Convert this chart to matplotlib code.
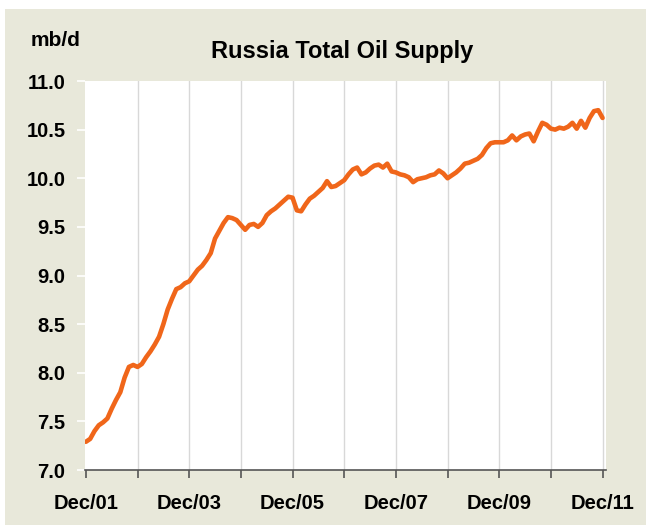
import numpy as np
import matplotlib
matplotlib.use("Agg")
import matplotlib.pyplot as plt
from matplotlib.patches import Rectangle

# monthly supply, Dec 2001 .. Dec 2011 (mb/d)
supply = [
    7.29, 7.32, 7.40, 7.46, 7.49, 7.53, 7.63, 7.72, 7.80, 7.95, 8.06, 8.08,
    8.06, 8.09, 8.16, 8.22, 8.29, 8.37, 8.50, 8.65, 8.76, 8.86, 8.88, 8.92,
    8.94, 9.00, 9.06, 9.10, 9.16, 9.23, 9.38, 9.46, 9.54, 9.60, 9.59, 9.57,
    9.52, 9.47, 9.52, 9.53, 9.50, 9.54, 9.62, 9.66, 9.69, 9.73, 9.77, 9.81,
    9.80, 9.67, 9.66, 9.73, 9.79, 9.82, 9.86, 9.90, 9.97, 9.91, 9.92, 9.95,
    9.98, 10.04, 10.09, 10.11, 10.04, 10.06, 10.10, 10.13, 10.14, 10.11, 10.15, 10.07,
    10.06, 10.04, 10.03, 10.01, 9.96, 9.99, 10.00, 10.01, 10.03, 10.04, 10.08, 10.05,
    10.00, 10.03, 10.06, 10.10, 10.15, 10.16, 10.18, 10.20, 10.24, 10.31, 10.36, 10.37,
    10.37, 10.37, 10.39, 10.44, 10.39, 10.43, 10.45, 10.46, 10.38, 10.48, 10.57, 10.55,
    10.51, 10.50, 10.52, 10.51, 10.53, 10.57, 10.51, 10.59, 10.52, 10.62, 10.69, 10.70,
    10.62,
]
tick_labels = ["Dec/01", "Dec/03", "Dec/05", "Dec/07", "Dec/09", "Dec/11"]
y_ticks = [7.0, 7.5, 8.0, 8.5, 9.0, 9.5, 10.0, 10.5, 11.0]

beige = "#e8e8da"
font = ["Liberation Sans", "DejaVu Sans"]
plt.rcParams["font.family"] = font

fig = plt.figure(figsize=(6.46, 5.25), dpi=100, facecolor="white")
fig.patches.append(Rectangle((5 / 646, 0), 1, 1 - 9 / 525, transform=fig.transFigure,
                             facecolor=beige, edgecolor="none", zorder=-10))

ax = fig.add_axes([85 / 646, 1 - 470 / 525, 521 / 646, 389 / 525])
ax.set_facecolor("white")

months = np.arange(len(supply))
ax.plot(months, supply, color="#f0661a", lw=3.3, solid_capstyle="round",
        solid_joinstyle="round", zorder=3)

ax.set_xlim(-0.2, 120.8)
ax.set_ylim(7.0, 11.0)

for m in range(12, 121, 12):
    ax.axvline(m, color="#d8d8d8", lw=1.0, zorder=1)

ax.set_xticks(range(0, 121, 12), minor=False)
ax.set_xticklabels([tick_labels[i // 2] if i % 2 == 0 else "" for i in range(11)])
ax.set_yticks(y_ticks)
ax.set_yticklabels([f"{v:.1f}" for v in y_ticks])

for s in ["top", "right", "left"]:
    ax.spines[s].set_visible(False)
ax.spines["bottom"].set_color("#555555")
ax.spines["bottom"].set_linewidth(1.2)

ax.tick_params(axis="x", direction="out", length=6, width=1.2, color="#555555",
               labelsize=14.5, pad=11)
ax.tick_params(axis="y", direction="out", length=6, width=1.2, color="white",
               labelsize=14.5, pad=8)
for lab in ax.get_xticklabels() + ax.get_yticklabels():
    lab.set_fontweight("bold")

fig.text(342 / 646, 1 - 51 / 525, "Russia Total Oil Supply", ha="center", va="center",
         fontsize=17, fontweight="bold")
fig.text(56 / 646, 1 - 41 / 525, "mb/d", ha="center", va="center",
         fontsize=15, fontweight="bold")

fig.savefig("out.png", dpi=100, facecolor=fig.get_facecolor())
